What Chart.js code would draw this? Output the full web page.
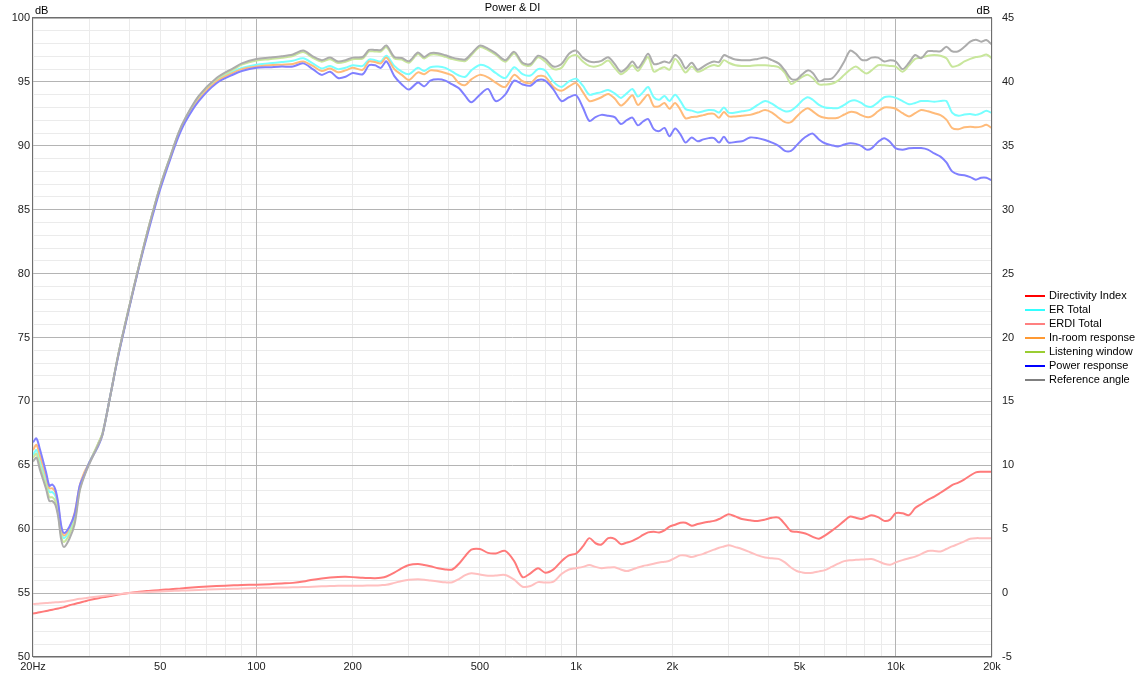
<!DOCTYPE html>
<html>
<head>
<meta charset="utf-8">
<title>Power &amp; DI</title>
<script src="https://cdn.jsdelivr.net/npm/chart.js"></script>
<style>
  body { margin: 0; background: #fff; }
</style>
</head>
<body>
<canvas id="diChart" width="1144" height="676"></canvas>
<script>
// frequency points (Hz)
var freqs = [20,20.5,21,22,22.5,23,23.5,24,24.5,25,
  26,27,28,29,30,32,33,35,37,40,
  43,46,50,54,57,60,66,75,85,90,
  100,110,120,130,140,150,160,170,180,190,
  200,215,225,235,245,255,270,285,300,320,
  335,350,370,390,410,430,450,470,500,530,
  560,600,640,680,720,760,800,850,900,950,
  1000,1050,1100,1150,1200,1260,1320,1380,1440,1500,
  1560,1620,1680,1750,1820,1890,1960,2040,2120,2200,
  2300,2400,2500,2600,2700,2800,2900,3000,3150,3300,
  3500,3700,3900,4100,4300,4500,4700,4900,5100,5300,
  5500,5750,6000,6300,6600,6900,7200,7500,7800,8100,
  8400,8800,9200,9600,10000,10500,11000,11500,12000,12600,
  13200,13800,14400,15000,15700,16400,17100,17800,18500,19200,20000];

// left axis, dB
var refAngle = [65.3,65.6,64.7,63.1,62.2,62.2,61.9,60.9,59.2,58.6,
  59.25,60.4,63.0,64.2,65.1,66.6,67.4,70.6,73.7,77.4,
  80.7,83.6,86.85,89.3,91.0,92.2,93.9,95.3,96.1,96.45,
  96.8,96.9,97.0,97.15,97.45,97.0,96.7,96.9,96.6,96.7,
  96.9,96.95,97.5,97.5,97.5,97.85,96.95,96.87,96.62,97.3,
  96.95,97.25,97.25,97.08,96.9,96.8,96.75,97.2,97.84,97.6,
  97.25,96.7,97.35,96.5,96.4,97.05,96.8,96.2,96.4,97.2,
  97.45,96.9,96.6,96.55,96.65,96.93,96.4,95.8,96.1,96.6,
  96.1,96.6,97.2,96.4,96.45,96.6,96.5,97.1,96.75,96.07,
  96.5,95.95,96.2,96.45,96.6,96.55,97.1,96.95,96.75,96.7,
  96.7,96.8,96.9,96.7,96.45,95.9,95.25,95.2,95.6,95.9,
  95.7,95.05,95.2,95.25,95.8,96.6,97.45,97.2,96.75,96.7,
  96.9,96.9,96.6,96.7,96.6,96.0,96.5,97.1,96.85,97.4,
  97.4,97.4,97.75,97.4,97.4,97.75,98.15,98.3,98.15,98.28,97.9];

var listening = [65.6,65.9,65.0,63.4,62.5,62.5,62.2,61.1,59.5,59.0,
  59.6,60.7,63.1,64.3,65.2,66.7,67.5,70.6,73.7,77.4,
  80.7,83.6,86.85,89.3,90.95,92.15,93.85,95.25,96.0,96.35,
  96.68,96.78,96.88,97.03,97.33,96.88,96.58,96.78,96.48,96.58,
  96.78,96.83,97.38,97.38,97.38,97.73,96.83,96.75,96.5,97.18,
  96.83,97.13,97.13,96.96,96.78,96.68,96.63,97.08,97.72,97.48,
  97.13,96.58,97.23,96.38,96.28,96.93,96.6,96.0,96.1,96.9,
  97.1,96.6,96.25,96.2,96.35,96.67,96.1,95.6,95.9,96.3,
  95.85,96.4,96.95,95.8,96.0,96.15,95.95,96.8,96.3,95.73,
  96.2,95.8,95.95,96.2,96.33,96.25,96.7,96.5,96.3,96.25,
  96.25,96.3,96.3,96.25,96.15,95.7,94.85,95.1,95.4,95.55,
  95.3,94.8,94.8,94.85,95.1,95.55,95.95,96.2,95.9,95.65,
  95.9,96.3,96.3,96.25,96.2,95.8,96.3,96.8,96.9,97.05,
  97.1,97.05,96.85,96.2,96.3,96.6,96.8,96.95,97.0,97.15,96.85];

var erTotal = [65.8,66.2,65.4,63.8,62.9,62.9,62.6,61.5,59.8,59.3,
  59.9,61.0,63.3,64.4,65.2,66.7,67.5,70.6,73.7,77.4,
  80.7,83.6,86.8,89.25,90.9,92.1,93.8,95.15,95.85,96.1,
  96.35,96.45,96.55,96.65,96.85,96.45,96.05,96.25,96.0,96.1,
  96.3,96.25,96.75,96.7,96.6,97.05,96.25,95.8,95.6,96.1,
  95.85,96.15,96.2,96.1,95.8,95.5,95.4,95.9,96.33,96.15,
  95.7,95.3,96.15,95.6,95.5,96.0,95.9,95.0,94.6,95.05,
  95.25,94.7,94.0,94.1,94.2,94.37,94.1,93.75,94.1,94.45,
  93.85,94.2,94.6,93.8,93.6,93.9,93.5,94.0,93.5,92.87,
  92.75,92.6,92.7,92.8,92.78,92.6,93.0,92.6,92.6,92.7,
  92.81,93.2,93.5,93.3,92.95,92.7,92.75,93.1,93.55,93.8,
  93.6,93.2,93.0,92.95,92.95,93.2,93.5,93.55,93.35,93.1,
  93.05,93.4,93.8,93.85,93.75,93.5,93.25,93.35,93.5,93.5,
  93.45,93.5,93.5,92.6,92.35,92.45,92.48,92.42,92.55,92.75,92.55];

var inRoom = [66.2,66.6,65.8,64.1,63.2,63.2,62.9,61.8,60.1,59.5,
  60.1,61.3,63.4,64.5,65.2,66.7,67.5,70.6,73.7,77.4,
  80.7,83.6,86.8,89.2,90.85,92.0,93.7,95.05,95.75,96.0,
  96.2,96.3,96.35,96.4,96.6,96.25,95.85,96.05,95.75,95.9,
  96.1,95.95,96.6,96.55,96.45,96.9,96.0,95.55,95.15,95.75,
  95.6,95.9,95.85,95.7,95.5,94.9,94.75,95.2,95.55,95.35,
  94.95,94.6,95.55,95.05,94.9,95.45,95.4,94.6,94.3,94.65,
  94.9,94.2,93.5,93.6,93.8,94.06,93.7,93.15,93.5,93.95,
  93.2,93.6,94.0,93.1,93.1,93.35,92.9,93.35,92.8,92.15,
  92.25,92.3,92.4,92.5,92.5,92.2,92.65,92.3,92.3,92.35,
  92.42,92.6,92.8,92.6,92.2,91.85,91.85,92.3,92.7,92.93,
  92.7,92.35,92.2,92.15,92.2,92.45,92.65,92.6,92.4,92.25,
  92.3,92.7,93.0,93.0,92.9,92.55,92.3,92.55,92.8,92.7,
  92.55,92.4,92.05,91.4,91.3,91.45,91.5,91.45,91.5,91.64,91.38];

var powerResp = [66.8,67.1,66.3,64.4,63.4,63.5,63.1,62.0,60.3,59.7,
  60.2,61.2,63.4,64.3,65.2,66.5,67.4,70.6,73.6,77.3,
  80.6,83.4,86.6,89.1,90.7,91.9,93.5,94.9,95.6,95.85,
  96.1,96.15,96.2,96.2,96.45,96.0,95.55,95.8,95.3,95.4,
  95.7,95.6,96.3,96.3,96.1,96.6,95.45,94.8,94.4,94.95,
  94.65,95.1,95.2,95.1,94.8,94.5,93.9,93.4,94.0,94.45,
  93.5,94.0,95.1,94.8,94.7,95.15,95.1,94.4,93.5,93.8,
  93.95,93.0,91.95,92.25,92.42,92.35,92.25,91.7,92.0,92.2,
  91.6,91.9,92.1,91.3,91.15,91.4,90.75,91.35,90.9,90.25,
  90.65,90.35,90.5,90.6,90.6,90.25,90.7,90.25,90.3,90.35,
  90.65,90.6,90.45,90.25,90.0,89.6,89.6,90.05,90.5,90.8,
  90.95,90.5,90.2,90.05,89.95,90.1,90.2,90.15,90.0,89.7,
  89.8,90.3,90.6,90.3,89.8,89.7,89.8,89.82,89.82,89.7,
  89.4,89.15,88.7,88.0,87.75,87.7,87.55,87.35,87.5,87.5,87.29];

// right axis, dB
var dirIndex = [-1.6,-1.55,-1.5,-1.4,-1.35,-1.3,-1.25,-1.2,-1.15,-1.1,
  -0.95,-0.85,-0.75,-0.65,-0.55,-0.4,-0.33,-0.22,-0.12,0.0,
  0.1,0.17,0.25,0.3,0.35,0.4,0.47,0.55,0.61,0.63,
  0.66,0.7,0.75,0.8,0.9,1.05,1.15,1.22,1.26,1.27,
  1.25,1.2,1.18,1.17,1.2,1.3,1.6,1.95,2.2,2.27,
  2.2,2.1,1.95,1.85,1.85,2.3,2.9,3.4,3.45,3.15,
  3.1,3.3,2.5,1.25,1.55,1.95,1.6,1.86,2.5,2.95,
  3.1,3.65,4.3,3.9,3.8,4.3,4.25,3.83,3.95,4.09,
  4.3,4.55,4.75,4.8,4.74,4.9,5.2,5.35,5.5,5.5,
  5.27,5.4,5.5,5.58,5.65,5.8,6.0,6.17,6.0,5.8,
  5.7,5.65,5.75,5.9,5.9,5.4,4.85,4.8,4.72,4.6,
  4.4,4.25,4.5,4.87,5.25,5.65,5.99,5.9,5.8,5.95,
  6.1,5.95,5.65,5.75,6.25,6.25,6.1,6.65,6.95,7.3,
  7.55,7.85,8.15,8.45,8.65,8.9,9.2,9.45,9.5,9.5,9.5];

var erdiTotal = [-0.86,-0.84,-0.82,-0.78,-0.76,-0.74,-0.72,-0.71,-0.69,-0.67,
  -0.6,-0.52,-0.45,-0.4,-0.35,-0.27,-0.23,-0.15,-0.08,0.0,
  0.05,0.08,0.12,0.16,0.19,0.21,0.25,0.3,0.34,0.36,
  0.4,0.42,0.44,0.45,0.47,0.5,0.53,0.55,0.57,0.58,
  0.58,0.58,0.59,0.6,0.62,0.65,0.8,0.95,1.05,1.09,
  1.05,0.98,0.9,0.84,0.85,1.1,1.4,1.55,1.45,1.35,
  1.38,1.42,1.05,0.5,0.55,0.86,0.82,0.9,1.5,1.85,
  1.95,2.05,2.2,2.05,1.95,2.0,2.02,1.85,1.72,1.85,
  2.0,2.12,2.2,2.3,2.4,2.45,2.53,2.75,2.95,2.95,
  2.82,2.95,3.07,3.25,3.4,3.55,3.65,3.75,3.6,3.45,
  3.2,2.95,2.78,2.72,2.68,2.4,2.0,1.73,1.62,1.57,
  1.6,1.7,1.8,2.05,2.3,2.5,2.57,2.6,2.62,2.65,
  2.66,2.5,2.3,2.22,2.4,2.58,2.72,2.85,3.05,3.3,
  3.3,3.25,3.45,3.65,3.85,4.05,4.25,4.3,4.3,4.3,4.3];

// axis ticks
var xGrid = [20,30,40,50,60,70,80,90,100,200,300,400,500,600,700,800,900,
  1000,2000,3000,4000,5000,6000,7000,8000,9000,10000,20000];
var xMajor = [100, 1000, 10000];
var xLabels = {20:'20Hz', 50:'50', 100:'100', 200:'200', 500:'500',
  1000:'1k', 2000:'2k', 5000:'5k', 10000:'10k', 20000:'20k'};

// legend, in its own order
var legendNames = ['Directivity Index','ER Total','ERDI Total','In-room response',
  'Listening window','Power response','Reference angle'];
var legendColors = ['#ff0000','#33ffff','#ff8080','#ff9933','#9acd32','#0000ff','#808080'];

var FONT = '"Liberation Sans", Arial, sans-serif';

function pts(vals) {
  return freqs.map(function (f, i) { return {x: f, y: vals[i]}; });
}

// first in the list is drawn on top
var lines = [
  {label: 'Reference angle', vals: refAngle, color: '#acacac', axis: 'y'},
  {label: 'Power response', vals: powerResp, color: '#8080ff', axis: 'y'},
  {label: 'Listening window', vals: listening, color: '#c8e69c', axis: 'y'},
  {label: 'In-room response', vals: inRoom, color: '#ffbb7a', axis: 'y'},
  {label: 'ERDI Total', vals: erdiTotal, color: '#ffc0c0', axis: 'y1'},
  {label: 'ER Total', vals: erTotal, color: '#77ffff', axis: 'y'},
  {label: 'Directivity Index', vals: dirIndex, color: '#ff7a7a', axis: 'y1'}
];

var extras = {
  id: 'extras',
  beforeDatasetsDraw: function (chart) {
    // decade lines sit above the 1 dB lines (same pixel snapping as Chart.js)
    var a = chart.chartArea, c = chart.ctx, xs = chart.scales.x;
    c.save();
    c.strokeStyle = '#b4b4b4';
    c.lineWidth = 1;
    xMajor.forEach(function (v) {
      var px = Math.round(xs.getPixelForValue(v) - 0.5) + 0.5;
      c.beginPath();
      c.moveTo(px, a.top);
      c.lineTo(px, a.bottom);
      c.stroke();
    });
    c.restore();
  },
  afterDatasetsDraw: function (chart) {
    var a = chart.chartArea, c = chart.ctx;
    c.save();
    c.strokeStyle = '#6e6e6e';
    c.lineWidth = 1;
    c.strokeRect(Math.round(a.left) - 0.5, Math.round(a.top) - 0.5,
      Math.round(a.right - a.left), Math.round(a.bottom - a.top));
    c.restore();
  },
  afterDraw: function (chart) {
    var a = chart.chartArea, c = chart.ctx;
    c.save();
    c.font = '11px ' + FONT;
    c.fillStyle = '#000';
    c.textBaseline = 'middle';
    c.textAlign = 'center';
    c.fillText('Power & DI', (a.left + a.right) / 2, 8);
    c.textAlign = 'left';
    c.fillText('dB', a.left + 2, 11);
    c.textAlign = 'right';
    c.fillText('dB', a.right - 2, 11);

    // legend
    c.textAlign = 'left';
    for (var i = 0; i < legendNames.length; i++) {
      var y = 296 + i * 14;
      c.fillStyle = legendColors[i];
      c.fillRect(1025, y - 1, 20, 2);
      c.fillStyle = '#000';
      c.fillText(legendNames[i], 1049, y);
    }
    c.restore();
  }
};

new Chart(document.getElementById('diChart').getContext('2d'), {
  type: 'line',
  data: {
    datasets: lines.map(function (l) {
      return {
        label: l.label,
        data: pts(l.vals),
        yAxisID: l.axis,
        borderColor: l.color,
        backgroundColor: l.color,
        borderWidth: 2,
        pointRadius: 0,
        tension: 0.3,
        fill: false
      };
    })
  },
  options: {
    responsive: false,
    animation: false,
    events: [],
    layout: { padding: { left: 0, right: 122, top: 18, bottom: 0 } },
    plugins: {
      legend: { display: false },
      title: { display: false },
      tooltip: { enabled: false }
    },
    scales: {
      x: {
        type: 'logarithmic',
        min: 20,
        max: 20000,
        afterBuildTicks: function (scale) {
          scale.ticks = xGrid.map(function (v) { return {value: v}; });
        },
        afterFit: function (scale) { scale.height = 19; },
        border: { display: false },
        grid: {
          drawTicks: false,
          color: function (ctx) {
            return xMajor.indexOf(ctx.tick.value) >= 0 ? '#b4b4b4' : '#ebebeb';
          }
        },
        ticks: {
          autoSkip: false,
          maxRotation: 0,
          padding: 3,
          color: '#222',
          font: { family: FONT, size: 11 },
          callback: function (v) { return xLabels[v] || ''; }
        }
      },
      y: {
        position: 'left',
        min: 50,
        max: 100,
        afterFit: function (scale) { scale.width = 33; },
        border: { display: false },
        grid: {
          drawTicks: false,
          color: function (ctx) {
            return ctx.tick.value % 5 === 0 ? '#b4b4b4' : '#ebebeb';
          }
        },
        ticks: {
          stepSize: 1,
          autoSkip: false,
          padding: 3,
          color: '#222',
          font: { family: FONT, size: 11 },
          callback: function (v) { return v % 5 === 0 ? v : ''; }
        }
      },
      y1: {
        position: 'right',
        min: -5,
        max: 45,
        afterFit: function (scale) { scale.width = 30; },
        border: { display: false },
        grid: { display: false, drawTicks: false },
        ticks: {
          stepSize: 5,
          autoSkip: false,
          padding: 10,
          color: '#222',
          font: { family: FONT, size: 11 }
        }
      }
    }
  },
  plugins: [extras]
});
</script>
</body>
</html>
